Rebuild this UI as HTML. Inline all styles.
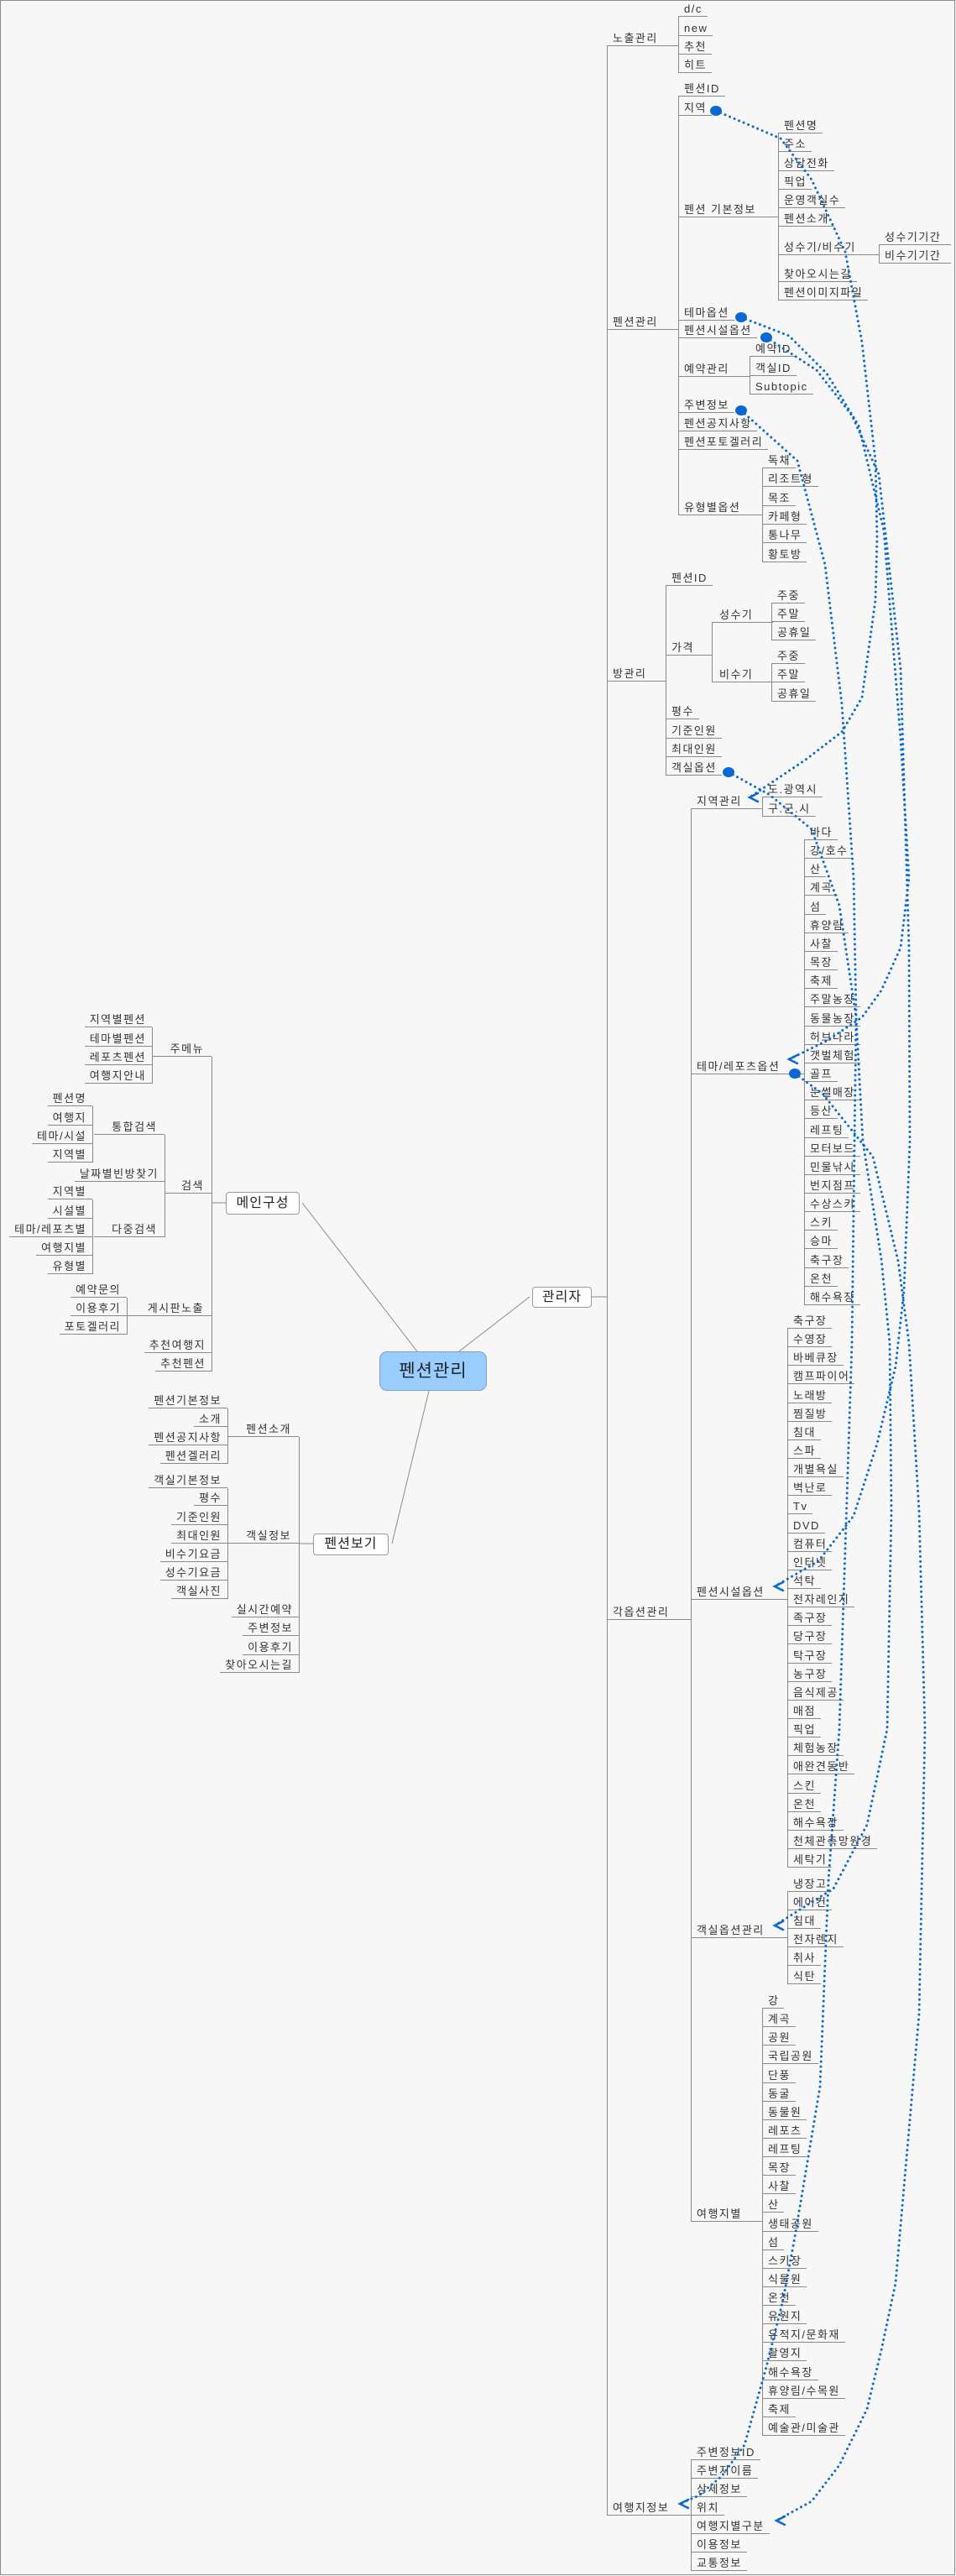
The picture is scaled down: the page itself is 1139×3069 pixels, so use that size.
<!DOCTYPE html>
<html><head><meta charset="utf-8">
<style>
html,body{margin:0;padding:0;}
body{width:1139px;height:3069px;background:#f7f7f7;position:relative;overflow:hidden;}
#frame{position:absolute;left:0;top:0;width:1136px;height:3066px;border:1px solid #8c8c8c;}
.i,.L,.P{position:absolute;white-space:nowrap;font-family:"Liberation Sans","Noto Sans CJK KR",sans-serif;font-size:13px;letter-spacing:1.5px;color:#333;line-height:17px;height:17px;border-bottom:1px solid #8a8a8a;}
.i{padding:0 6px 0 7px;}
.L{padding:0 7px 0 6px;text-align:right;}
.P{padding:0 9px 0 0;text-align:right;box-sizing:content-box;}
.v{position:absolute;width:0;border-left:1px solid #8a8a8a;}
.box{position:absolute;background:#fff;border:1px solid #9a9a9a;border-radius:4px;box-sizing:border-box;font-family:"Liberation Sans","Noto Sans CJK KR",sans-serif;font-size:16px;color:#222;text-align:center;letter-spacing:1px;}
svg{position:absolute;left:0;top:0;}
</style></head><body>
<div id="frame"></div>

<svg width="1139" height="3069">
<g stroke="#8a8a8a" stroke-width="1" fill="none">
<line x1="360" y1="1433" x2="497" y2="1610"/>
<line x1="547" y1="1610" x2="631" y2="1545"/>
<line x1="511" y1="1657" x2="467" y2="1839"/>
<line x1="705" y1="1545" x2="723" y2="1545"/>
<line x1="252" y1="1433" x2="269" y2="1433"/>
<line x1="356" y1="1839" x2="373" y2="1839"/>
</g>
</svg>

<!-- center + boxes -->
<div class="box" style="left:452px;top:1610px;width:128px;height:47px;background:#99ccff;border-color:#7f9fcf;border-radius:9px;font-size:21px;line-height:45px;">펜션관리</div>
<div class="box" style="left:634px;top:1533px;width:71px;height:25px;line-height:23px;">관리자</div>
<div class="box" style="left:269px;top:1420px;width:88px;height:27px;line-height:25px;">메인구성</div>
<div class="box" style="left:373px;top:1827px;width:90px;height:26px;line-height:24px;">펜션보기</div>

<!-- LEFT verticals -->
<div class="v" style="left:252px;top:1259px;height:375px"></div>
<div class="v" style="left:181px;top:1224px;height:67px"></div>
<div class="v" style="left:196px;top:1352px;height:122px"></div>
<div class="v" style="left:110px;top:1318px;height:67px"></div>
<div class="v" style="left:110px;top:1429px;height:89px"></div>
<div class="v" style="left:151px;top:1546px;height:44px"></div>
<div class="v" style="left:356px;top:1712px;height:281px"></div>
<div class="v" style="left:271px;top:1678px;height:66px"></div>
<div class="v" style="left:271px;top:1773px;height:132px"></div>

<!-- LEFT items -->
<div class="P" style="left:182px;width:61px;top:1241px">주메뉴</div>
<div class="P" style="left:196px;width:47px;top:1404px">검색</div>
<div class="P" style="left:152px;width:91px;top:1550px">게시판노출</div>
<div class="L" style="right:887px;top:1594px">추천여행지</div>
<div class="L" style="right:887px;top:1616px">추천펜션</div>

<div class="L" style="right:958px;top:1206px">지역별펜션</div>
<div class="L" style="right:958px;top:1229px">테마별펜션</div>
<div class="L" style="right:958px;top:1251px">레포츠펜션</div>
<div class="L" style="right:958px;top:1273px">여행지안내</div>

<div class="P" style="left:112px;width:75px;top:1334px">통합검색</div>
<div class="L" style="right:943px;top:1390px">날짜별빈방찾기</div>
<div class="P" style="left:112px;width:75px;top:1456px">다중검색</div>

<div class="L" style="right:1029px;top:1300px">펜션명</div>
<div class="L" style="right:1029px;top:1323px">여행지</div>
<div class="L" style="right:1029px;top:1345px">테마/시설</div>
<div class="L" style="right:1029px;top:1367px">지역별</div>

<div class="L" style="right:1029px;top:1411px">지역별</div>
<div class="L" style="right:1029px;top:1434px">시설별</div>
<div class="L" style="right:1029px;top:1456px">테마/레포츠별</div>
<div class="L" style="right:1029px;top:1478px">여행지별</div>
<div class="L" style="right:1029px;top:1500px">유형별</div>

<div class="L" style="right:988px;top:1528px">예약문의</div>
<div class="L" style="right:988px;top:1550px">이용후기</div>
<div class="L" style="right:988px;top:1572px">포토겔러리</div>

<div class="P" style="left:271px;width:76px;top:1694px">펜션소개</div>
<div class="P" style="left:271px;width:76px;top:1821px">객실정보</div>
<div class="L" style="right:783px;top:1909px">실시간예약</div>
<div class="L" style="right:783px;top:1931px">주변정보</div>
<div class="L" style="right:783px;top:1954px">이용후기</div>
<div class="L" style="right:783px;top:1975px">찾아오시는길</div>

<div class="L" style="right:868px;top:1660px">펜션기본정보</div>
<div class="L" style="right:868px;top:1682px">소개</div>
<div class="L" style="right:868px;top:1704px">펜션공지사항</div>
<div class="L" style="right:868px;top:1726px">펜션겔러리</div>

<div class="L" style="right:868px;top:1755px">객실기본정보</div>
<div class="L" style="right:868px;top:1776px">평수</div>
<div class="L" style="right:868px;top:1799px">기준인원</div>
<div class="L" style="right:868px;top:1821px">최대인원</div>
<div class="L" style="right:868px;top:1843px">비수기요금</div>
<div class="L" style="right:868px;top:1865px">성수기요금</div>
<div class="L" style="right:868px;top:1887px">객실사진</div>

<!-- RIGHT verticals -->
<div class="v" style="left:723px;top:55px;height:2942px"></div>
<div class="v" style="left:808px;top:20px;height:67px"></div>
<div class="v" style="left:808px;top:115px;height:499px"></div>
<div class="v" style="left:927px;top:159px;height:199px"></div>
<div class="v" style="left:1047px;top:292px;height:22px"></div>
<div class="v" style="left:893px;top:425px;height:45px"></div>
<div class="v" style="left:908px;top:558px;height:112px"></div>
<div class="v" style="left:793px;top:698px;height:226px"></div>
<div class="v" style="left:848px;top:742px;height:71px"></div>
<div class="v" style="left:919px;top:719px;height:44px"></div>
<div class="v" style="left:919px;top:791px;height:45px"></div>
<div class="v" style="left:823px;top:964px;height:1683px"></div>
<div class="v" style="left:823px;top:2931px;height:132px"></div>
<div class="v" style="left:908px;top:950px;height:23px"></div>
<div class="v" style="left:958px;top:1001px;height:554px"></div>
<div class="v" style="left:938px;top:1583px;height:642px"></div>
<div class="v" style="left:938px;top:2254px;height:110px"></div>
<div class="v" style="left:908px;top:2393px;height:509px"></div>

<!-- RIGHT level 1 -->
<div class="i" style="left:723px;top:37px;width:72px">노출관리</div>
<div class="i" style="left:723px;top:375px;width:72px">펜션관리</div>
<div class="i" style="left:723px;top:794px;width:57px">방관리</div>
<div class="i" style="left:723px;top:1912px;width:87px">각옵션관리</div>
<div class="i" style="left:723px;top:2979px;width:87px">여행지정보</div>

<!-- 노출관리 -->
<div class="i" style="left:808px;top:2px">d/c</div>
<div class="i" style="left:808px;top:25px">new</div>
<div class="i" style="left:808px;top:47px">추천</div>
<div class="i" style="left:808px;top:69px">히트</div>

<!-- 펜션관리 -->
<div class="i" style="left:808px;top:97px">펜션ID</div>
<div class="i" style="left:808px;top:120px">지역</div>
<div class="i" style="left:808px;top:241px;width:106px">펜션 기본정보</div>
<div class="i" style="left:808px;top:364px">테마옵션</div>
<div class="i" style="left:808px;top:385px">펜션시설옵션</div>
<div class="i" style="left:808px;top:431px;width:72px">예약관리</div>
<div class="i" style="left:808px;top:474px">주변정보</div>
<div class="i" style="left:808px;top:496px">펜션공지사항</div>
<div class="i" style="left:808px;top:518px">펜션포토겔러리</div>
<div class="i" style="left:808px;top:596px;width:87px">유형별옵션</div>

<div class="i" style="left:927px;top:141px">펜션명</div>
<div class="i" style="left:927px;top:163px">주소</div>
<div class="i" style="left:927px;top:186px">상담전화</div>
<div class="i" style="left:927px;top:208px">픽업</div>
<div class="i" style="left:927px;top:230px">운영객실수</div>
<div class="i" style="left:927px;top:252px">펜션소개</div>
<div class="i" style="left:927px;top:286px;width:107px">성수기/비수기</div>
<div class="i" style="left:927px;top:318px">찾아오시는길</div>
<div class="i" style="left:927px;top:340px">펜션이미지파일</div>
<div class="i" style="left:1047px;top:274px;width:73px">성수기기간</div>
<div class="i" style="left:1047px;top:296px;width:73px">비수기기간</div>

<div class="i" style="left:893px;top:407px">예약ID</div>
<div class="i" style="left:893px;top:430px">객실ID</div>
<div class="i" style="left:893px;top:452px">Subtopic</div>

<div class="i" style="left:908px;top:540px">독채</div>
<div class="i" style="left:908px;top:562px">리조트형</div>
<div class="i" style="left:908px;top:585px">목조</div>
<div class="i" style="left:908px;top:607px">카페형</div>
<div class="i" style="left:908px;top:629px">통나무</div>
<div class="i" style="left:908px;top:652px">황토방</div>

<!-- 방관리 -->
<div class="i" style="left:793px;top:680px">펜션ID</div>
<div class="i" style="left:793px;top:763px;width:42px">가격</div>
<div class="i" style="left:793px;top:839px">평수</div>
<div class="i" style="left:793px;top:862px">기준인원</div>
<div class="i" style="left:793px;top:884px">최대인원</div>
<div class="i" style="left:793px;top:906px">객실옵션</div>
<div class="i" style="left:848px;top:724px;width:58px;padding-left:9px">성수기</div>
<div class="i" style="left:848px;top:795px;width:58px;padding-left:9px">비수기</div>
<div class="i" style="left:919px;top:701px">주중</div>
<div class="i" style="left:919px;top:723px">주말</div>
<div class="i" style="left:919px;top:745px">공휴일</div>
<div class="i" style="left:919px;top:773px">주중</div>
<div class="i" style="left:919px;top:795px">주말</div>
<div class="i" style="left:919px;top:818px">공휴일</div>

<!-- 각옵션관리 -->
<div class="i" style="left:823px;top:946px;width:72px">지역관리</div>
<div class="i" style="left:823px;top:1262px;width:122px">테마/레포츠옵션</div>
<div class="i" style="left:823px;top:1888px;width:102px">펜션시설옵션</div>
<div class="i" style="left:823px;top:2291px;width:102px">객실옵션관리</div>
<div class="i" style="left:823px;top:2629px;width:72px">여행지별</div>

<div class="i" style="left:908px;top:932px">도.광역시</div>
<div class="i" style="left:908px;top:955px">구.군.시</div>

<div class="i" style="left:958px;top:983px">바다</div>
<div class="i" style="left:958px;top:1005px">강/호수</div>
<div class="i" style="left:958px;top:1027px">산</div>
<div class="i" style="left:958px;top:1049px">계곡</div>
<div class="i" style="left:958px;top:1072px">섬</div>
<div class="i" style="left:958px;top:1094px">휴양림</div>
<div class="i" style="left:958px;top:1116px">사찰</div>
<div class="i" style="left:958px;top:1138px">목장</div>
<div class="i" style="left:958px;top:1160px">축제</div>
<div class="i" style="left:958px;top:1182px">주말농장</div>
<div class="i" style="left:958px;top:1205px">동물농장</div>
<div class="i" style="left:958px;top:1227px">허브나라</div>
<div class="i" style="left:958px;top:1249px">갯벌체험</div>
<div class="i" style="left:958px;top:1271px">골프</div>
<div class="i" style="left:958px;top:1293px">눈썰매장</div>
<div class="i" style="left:958px;top:1315px">등산</div>
<div class="i" style="left:958px;top:1338px">레프팅</div>
<div class="i" style="left:958px;top:1360px">모터보드</div>
<div class="i" style="left:958px;top:1382px">민물낚시</div>
<div class="i" style="left:958px;top:1404px">번지점프</div>
<div class="i" style="left:958px;top:1426px">수상스키</div>
<div class="i" style="left:958px;top:1448px">스키</div>
<div class="i" style="left:958px;top:1470px">승마</div>
<div class="i" style="left:958px;top:1493px">축구장</div>
<div class="i" style="left:958px;top:1515px">온천</div>
<div class="i" style="left:958px;top:1537px">해수욕장</div>

<div class="i" style="left:938px;top:1565px">축구장</div>
<div class="i" style="left:938px;top:1587px">수영장</div>
<div class="i" style="left:938px;top:1609px">바베큐장</div>
<div class="i" style="left:938px;top:1631px">캠프파이어</div>
<div class="i" style="left:938px;top:1654px">노래방</div>
<div class="i" style="left:938px;top:1676px">찜질방</div>
<div class="i" style="left:938px;top:1698px">침대</div>
<div class="i" style="left:938px;top:1720px">스파</div>
<div class="i" style="left:938px;top:1742px">개별욕실</div>
<div class="i" style="left:938px;top:1764px">벽난로</div>
<div class="i" style="left:938px;top:1786px">Tv</div>
<div class="i" style="left:938px;top:1809px">DVD</div>
<div class="i" style="left:938px;top:1831px">컴퓨터</div>
<div class="i" style="left:938px;top:1853px">인터넷</div>
<div class="i" style="left:938px;top:1875px">석탁</div>
<div class="i" style="left:938px;top:1897px">전자레인지</div>
<div class="i" style="left:938px;top:1919px">족구장</div>
<div class="i" style="left:938px;top:1941px">당구장</div>
<div class="i" style="left:938px;top:1964px">탁구장</div>
<div class="i" style="left:938px;top:1986px">농구장</div>
<div class="i" style="left:938px;top:2008px">음식제공</div>
<div class="i" style="left:938px;top:2030px">매점</div>
<div class="i" style="left:938px;top:2052px">픽업</div>
<div class="i" style="left:938px;top:2074px">체험농장</div>
<div class="i" style="left:938px;top:2096px">애완견동반</div>
<div class="i" style="left:938px;top:2119px">스킨</div>
<div class="i" style="left:938px;top:2141px">온천</div>
<div class="i" style="left:938px;top:2163px">해수욕장</div>
<div class="i" style="left:938px;top:2185px">천체관측망원경</div>
<div class="i" style="left:938px;top:2207px">세탁기</div>

<div class="i" style="left:938px;top:2236px">냉장고</div>
<div class="i" style="left:938px;top:2258px">에어컨</div>
<div class="i" style="left:938px;top:2280px">침대</div>
<div class="i" style="left:938px;top:2302px">전자렌지</div>
<div class="i" style="left:938px;top:2324px">취사</div>
<div class="i" style="left:938px;top:2346px">식탄</div>

<div class="i" style="left:908px;top:2375px">강</div>
<div class="i" style="left:908px;top:2397px">계곡</div>
<div class="i" style="left:908px;top:2419px">공원</div>
<div class="i" style="left:908px;top:2441px">국립공원</div>
<div class="i" style="left:908px;top:2464px">단풍</div>
<div class="i" style="left:908px;top:2486px">동굴</div>
<div class="i" style="left:908px;top:2508px">동물원</div>
<div class="i" style="left:908px;top:2530px">레포츠</div>
<div class="i" style="left:908px;top:2552px">레프팅</div>
<div class="i" style="left:908px;top:2574px">목장</div>
<div class="i" style="left:908px;top:2596px">사찰</div>
<div class="i" style="left:908px;top:2618px">산</div>
<div class="i" style="left:908px;top:2641px">생태공원</div>
<div class="i" style="left:908px;top:2663px">섬</div>
<div class="i" style="left:908px;top:2685px">스키장</div>
<div class="i" style="left:908px;top:2707px">식물원</div>
<div class="i" style="left:908px;top:2729px">온천</div>
<div class="i" style="left:908px;top:2751px">유원지</div>
<div class="i" style="left:908px;top:2773px">유적지/문화재</div>
<div class="i" style="left:908px;top:2795px">촬영지</div>
<div class="i" style="left:908px;top:2818px">해수욕장</div>
<div class="i" style="left:908px;top:2840px">휴양림/수목원</div>
<div class="i" style="left:908px;top:2862px">축제</div>
<div class="i" style="left:908px;top:2884px">예술관/미술관</div>

<div class="i" style="left:823px;top:2913px">주변정보ID</div>
<div class="i" style="left:823px;top:2935px">주변지이름</div>
<div class="i" style="left:823px;top:2957px">상세정보</div>
<div class="i" style="left:823px;top:2979px">위치</div>
<div class="i" style="left:823px;top:3001px">여행지별구분</div>
<div class="i" style="left:823px;top:3023px">이용정보</div>
<div class="i" style="left:823px;top:3045px">교통정보</div>

<!-- dotted relationship curves -->
<svg width="1139" height="3069">
<g stroke="#0a68d4" stroke-width="3" stroke-linecap="round" stroke-dasharray="0 6" fill="none" stroke-linejoin="round">
<polyline points="853,132 930,165 967,214 1007,300 1027,408 1043,549 1045,640 1043,715 1027,831 1003,872 960,905 893,950"/>
<polyline points="883,378 940,400 985,445 1023,507 1053,632 1073,880 1083,1046 1073,1129 1050,1180 1027,1212 985,1240 940,1262"/>
<polyline points="913,402 973,441 1015,495 1047,565 1073,797 1083,1129 1084,1360 1077,1538 1067,1628 1045,1720 1017,1806 975,1860 923,1890"/>
<polyline points="883,489 950,549 983,673 1003,839 1017,1046 1020,1212 1018,1360 1015,1600 1000,2060 987,2241 977,2486 947,2665 933,2740 913,2820 887,2913 860,2950 833,2973 810,2983"/>
<polyline points="868,920 917,947 967,988 1000,1079 1020,1212 1028,1360 1050,1500 1060,1600 1062,1800 1057,2060 1033,2174 993,2250 923,2294"/>
<polyline points="947,1279 980,1303 1040,1378 1070,1502 1083,1600 1095,1800 1102,2060 1095,2400 1067,2720 1050,2800 1033,2870 1000,2937 967,2980 925,3003"/>
</g>
<g fill="#0a68d4">
<ellipse cx="853" cy="132" rx="7" ry="6"/>
<ellipse cx="883" cy="378" rx="7" ry="6"/>
<ellipse cx="913" cy="402" rx="7" ry="6"/>
<ellipse cx="883" cy="489" rx="7" ry="6"/>
<ellipse cx="868" cy="920" rx="7" ry="6"/>
<ellipse cx="947" cy="1279" rx="7" ry="6"/>
</g>
<g stroke="#0a68d4" stroke-width="2.5" fill="none" stroke-linecap="round">
<polyline points="903,945 893,950 903,955"/>
<polyline points="950,1257 940,1262 950,1267"/>
<polyline points="933,1885 923,1890 933,1895"/>
<polyline points="820,2978 810,2983 820,2988"/>
<polyline points="933,2289 923,2294 933,2299"/>
<polyline points="935,2998 925,3003 935,3008"/>
</g>
</svg>
</body></html>
